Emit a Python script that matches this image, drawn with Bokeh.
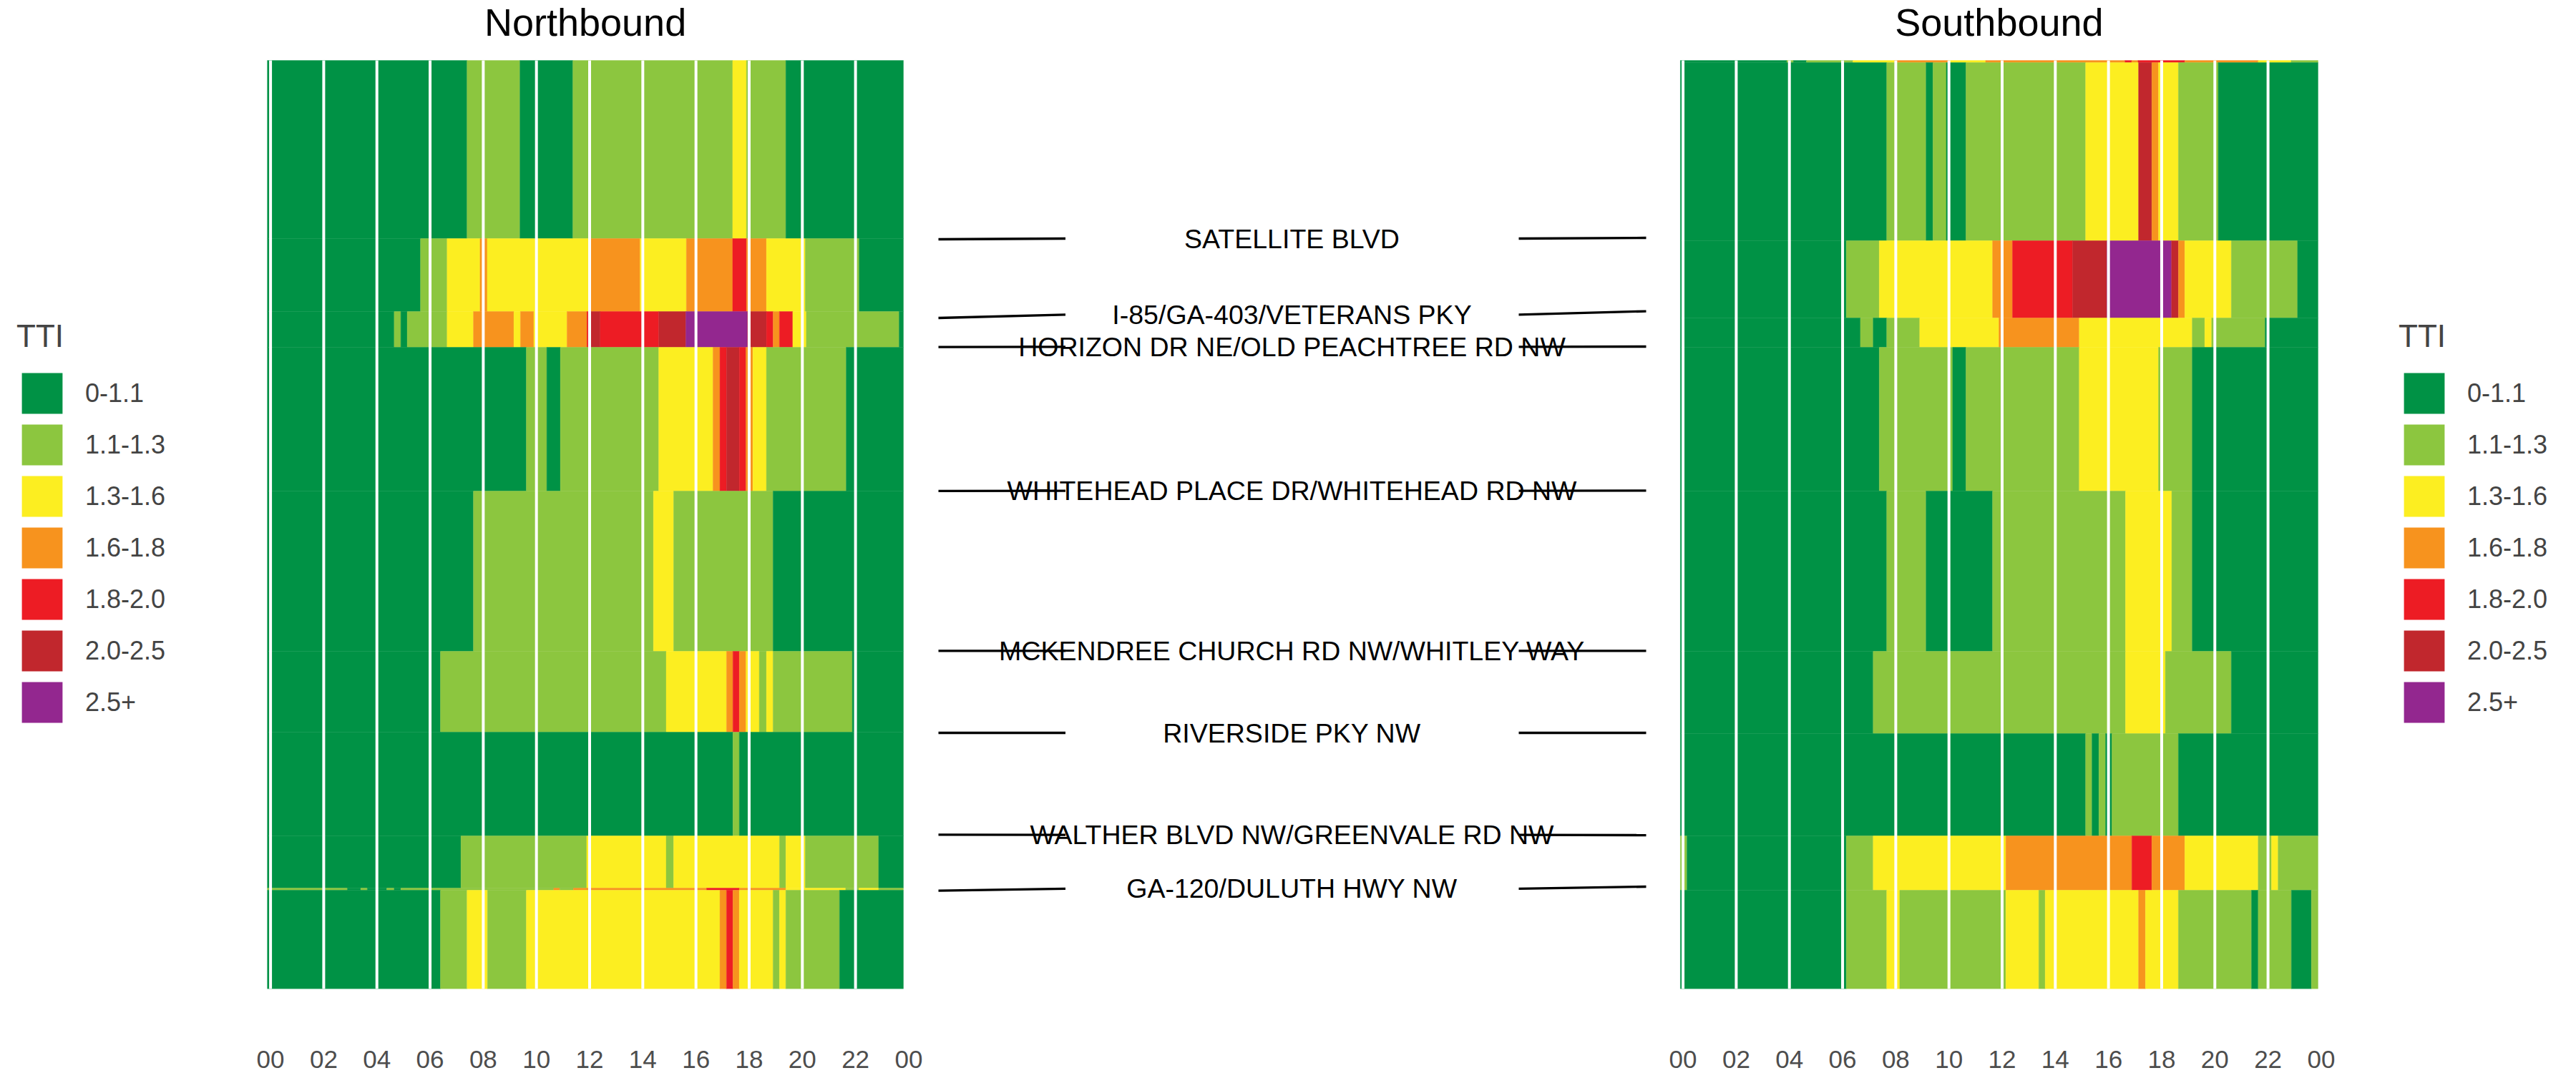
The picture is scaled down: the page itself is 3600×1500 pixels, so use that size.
from bokeh.plotting import figure
from bokeh.models import ColumnDataSource, Range1d, FixedTicker, Legend, LegendItem
from bokeh.layouts import row
from bokeh.embed import file_html
from bokeh.resources import INLINE
from bokeh.core.properties import value

# ---------------- data ----------------
TTI_LABELS = ["0-1.1", "1.1-1.3", "1.3-1.6", "1.6-1.8", "1.8-2.0", "2.0-2.5", "2.5+"]
TTI_COLORS = ["#009245", "#8CC63F", "#FCEE21", "#F7931E", "#ED1C24", "#C1272D", "#93278F"]

HOUR_TICKS = [0, 2, 4, 6, 8, 10, 12, 14, 16, 18, 20, 22, 24]
HOUR_LABELS = ["00", "02", "04", "06", "08", "10", "12", "14", "16", "18", "20", "22", "00"]
HOUR_GRID = [0, 2, 4, 6, 8, 10, 12, 14, 16, 18, 20, 22]

CORRIDOR_LENGTH = 6.49  # miles, top (north end) = 0

# intersections (distance from north end, miles)
CROSS_STREETS = ["SATELLITE BLVD", "I-85/GA-403/VETERANS PKY", "HORIZON DR NE/OLD PEACHTREE RD NW",
                 "WHITEHEAD PLACE DR/WHITEHEAD RD NW", "MCKENDREE CHURCH RD NW/WHITLEY WAY",
                 "RIVERSIDE PKY NW", "WALTHER BLVD NW/GREENVALE RD NW", "GA-120/DULUTH HWY NW"]
CROSS_NB = [1.24, 1.753, 2.0, 3.007, 4.127, 4.7, 5.415, 5.775]
CROSS_SB = [1.25, 1.8, 2.003, 3.009, 4.127, 4.7, 5.412, 5.803]

# Northbound segment edges and runs (start hour, TTI class index)
NB_START, NB_END = -0.12, 23.8
NB_EDGES = [0, 1.245, 1.755, 2.005, 3.01, 4.13, 4.695, 5.42, 5.785, 5.80, 6.49]
NB_R1 = [(-0.12, 0), (7.39, 1), (9.38, 0), (11.37, 1), (17.38, 2), (17.9, 1), (19.38, 0)]
NB_R2 = [(-0.12, 0), (5.64, 1), (6.64, 2), (7.88, 3), (8.15, 2), (12.05, 3), (13.9, 2), (15.64, 3),
         (17.38, 4), (17.9, 3), (18.65, 2), (20.11, 1), (22.14, 0)]
NB_R3 = [(-0.12, 0), (4.65, 1), (4.9, 0), (5.14, 1), (6.64, 2), (7.63, 3), (9.15, 2), (9.4, 3), (9.9, 2),
         (11.15, 3), (11.9, 4), (12.05, 5), (12.4, 4), (14.6, 5), (15.62, 6), (17.94, 5), (18.65, 4),
         (18.9, 3), (19.14, 4), (19.64, 2), (20.15, 1), (23.64, 0)]
NB_R4 = [(-0.12, 0), (9.62, 1), (10.39, 0), (10.9, 1), (14.6, 2), (16.64, 3), (16.9, 4), (17.15, 5),
         (17.63, 4), (17.88, 3), (18.14, 2), (18.65, 1), (21.65, 0)]
NB_R5 = [(-0.12, 0), (7.63, 1), (14.4, 2), (15.16, 1), (18.9, 0)]
NB_R6 = [(-0.12, 0), (6.39, 1), (14.88, 2), (17.15, 3), (17.39, 4), (17.63, 3), (17.88, 2), (18.38, 1),
         (18.65, 2), (18.9, 1), (21.88, 0)]
NB_R7 = [(-0.12, 0), (17.39, 1), (17.63, 0)]
NB_R8 = [(-0.12, 0), (7.16, 1), (11.89, 2), (14.88, 1), (15.16, 2), (19.14, 1), (19.38, 2), (20.11, 1),
         (22.87, 0)]
NB_R9 = [(-0.12, 1), (2.89, 0), (3.39, 1), (3.64, 0), (4.37, 1), (4.65, 0), (4.9, 1), (10.65, 3),
         (10.88, 1), (11.39, 3), (16.4, 4), (17.63, 3), (19.38, 2), (21.63, 1), (22.13, 2), (22.87, 1)]
NB_R10 = [(-0.12, 0), (6.39, 1), (7.39, 2), (8.16, 1), (9.62, 2), (16.9, 3), (17.15, 4), (17.39, 3),
          (17.63, 2), (18.9, 1), (19.14, 2), (19.38, 1), (21.4, 0)]

# Southbound segment edges and runs
SB_START, SB_END = -0.1, 23.88
SB_EDGES = [0, 0.015, 1.26, 1.80, 2.005, 3.01, 4.13, 4.705, 5.42, 5.80, 6.49]
SB_R0 = [(-0.1, 0), (3.9, 1), (4.15, 0), (4.64, 1), (6.39, 2), (7.95, 3), (10.0, 2), (11.38, 3),
         (16.62, 4), (16.87, 3), (17.11, 4), (18.87, 3), (21.63, 2), (22.87, 1)]
SB_R1 = [(-0.1, 0), (7.66, 1), (9.14, 0), (9.4, 1), (9.9, 0), (10.64, 1), (15.14, 2), (17.13, 5),
         (17.63, 3), (17.88, 2), (18.63, 1), (20.13, 0)]
SB_R2 = [(-0.1, 0), (6.14, 1), (7.38, 2), (11.64, 3), (12.39, 4), (14.65, 5), (15.94, 6), (18.37, 5),
         (18.63, 3), (18.87, 2), (20.62, 1), (23.11, 0)]
SB_R3 = [(-0.1, 0), (6.67, 1), (7.15, 0), (7.66, 1), (8.9, 2), (11.88, 3), (14.9, 2), (19.15, 1),
         (19.62, 2), (19.88, 1), (21.89, 0)]
SB_R4 = [(-0.1, 0), (7.38, 1), (10.14, 0), (10.64, 1), (14.9, 2), (17.88, 1), (19.15, 0)]
SB_R5 = [(-0.1, 0), (7.66, 1), (9.14, 0), (11.64, 1), (16.64, 2), (18.38, 1), (19.15, 0)]
SB_R6 = [(-0.1, 0), (7.15, 1), (16.64, 2), (18.14, 1), (20.62, 0)]
SB_R7 = [(-0.1, 0), (15.14, 1), (15.38, 0), (15.64, 1), (15.89, 0), (16.13, 1), (18.63, 0)]
SB_R8 = [(-0.1, 1), (0.15, 0), (6.14, 1), (7.15, 2), (12.14, 3), (16.88, 4), (17.63, 3), (18.87, 2),
         (21.63, 1), (22.13, 2), (22.38, 1)]
SB_R9 = [(-0.1, 0), (6.14, 1), (7.66, 2), (8.15, 1), (12.14, 2), (13.38, 1), (13.62, 2), (17.13, 3),
         (17.39, 2), (18.63, 1), (21.38, 0), (21.63, 1), (22.88, 0), (23.63, 1)]

NB_ROWS = [NB_R1, NB_R2, NB_R3, NB_R4, NB_R5, NB_R6, NB_R7, NB_R8, NB_R9, NB_R10]
SB_ROWS = [SB_R0, SB_R1, SB_R2, SB_R3, SB_R4, SB_R5, SB_R6, SB_R7, SB_R8, SB_R9]

# ---------------- style ----------------
FONT = "Liberation Sans"
H = 1500
TOP, BOTTOM = 84, 118
FRAME_W = 929
PX_PER_MILE = (H - TOP - BOTTOM) / CORRIDOR_LENGTH
Y_TOP = -TOP / PX_PER_MILE          # frame reaches up to the top of the page
TITLE_Y = -54 / PX_PER_MILE         # title baseline above the panel
NAN = float("nan")


def tile_source(edges, rows, t_end):
    d = dict(left=[], right=[], top=[], bottom=[], color=[])
    for i, runs in enumerate(rows):
        for j, (t0, c) in enumerate(runs):
            t1 = runs[j + 1][0] if j + 1 < len(runs) else t_end
            d["left"].append(t0)
            d["right"].append(t1)
            d["top"].append(edges[i])
            d["bottom"].append(edges[i + 1])
            d["color"].append(TTI_COLORS[c])
    return ColumnDataSource(d)


def panel(title, edges, rows, t_start, t_end, bl, br):
    p = figure(width=FRAME_W + bl + br, height=H, x_range=Range1d(-0.5, 24.5),
               y_range=Range1d(CORRIDOR_LENGTH, Y_TOP), toolbar_location=None, output_backend="svg",
               min_border_left=bl, min_border_right=br, min_border_top=0, min_border_bottom=BOTTOM,
               y_axis_location=None, outline_line_color=None, background_fill_color="white")
    p.grid.visible = False
    p.quad(left="left", right="right", top="top", bottom="bottom", source=tile_source(edges, rows, t_end),
           fill_color="color", line_color="color", line_width=0.4)
    gsrc = ColumnDataSource(dict(x=HOUR_GRID, y0=[edges[0]] * len(HOUR_GRID),
                                 y1=[edges[-1]] * len(HOUR_GRID)))
    p.segment(x0="x", y0="y0", x1="x", y1="y1", source=gsrc, line_color="white", line_width=4)
    tsrc = ColumnDataSource(dict(x=[(t_start + t_end) / 2], y=[TITLE_Y], text=[title]))
    p.text(x="x", y="y", text="text", source=tsrc, text_align="center", text_baseline="alphabetic",
           text_font=value(FONT), text_font_size="54px", text_color="black")
    ax = p.xaxis[0]
    ax.ticker = FixedTicker(ticks=HOUR_TICKS)
    ax.major_label_overrides = {t: s for t, s in zip(HOUR_TICKS, HOUR_LABELS)}
    ax.axis_line_color = None
    ax.major_tick_line_color = None
    ax.minor_tick_line_color = None
    ax.major_tick_out = 0
    ax.major_tick_in = 0
    ax.major_label_standoff = 86
    ax.major_label_text_line_height = 0.8
    ax.major_label_text_font_size = "35px"
    ax.major_label_text_font = FONT
    ax.major_label_text_color = "#4D4D4D"
    return p


def legend_fig(width, x_off):
    p = figure(width=width, height=H, x_range=Range1d(0, 1), y_range=Range1d(0, 1),
               toolbar_location=None, output_backend="svg", min_border=0,
               x_axis_location=None, y_axis_location=None, outline_line_color=None)
    p.grid.visible = False
    items = []
    for lab, col in zip(TTI_LABELS, TTI_COLORS):
        r = p.quad(left=[NAN], right=[NAN], top=[NAN], bottom=[NAN], fill_color=col, line_color=None)
        items.append(LegendItem(label=lab, renderers=[r]))
    leg = Legend(items=items, location=(x_off, 365), title="TTI",
                 title_text_font_size="44px", title_text_font=FONT, title_text_font_style="normal",
                 title_standoff=19, label_text_font_size="36px", label_text_font=FONT,
                 label_standoff=25, glyph_width=71, glyph_height=71, spacing=1, padding=0, margin=0,
                 border_line_color=None, background_fill_alpha=0)
    p.add_layout(leg)
    return p


nb = panel("Northbound", NB_EDGES, NB_ROWS, NB_START, NB_END, 20, 12)
sb = panel("Southbound", SB_EDGES, SB_ROWS, SB_START, SB_END, 23, 20)

# middle panel with cross street names
mid = figure(width=1010, height=H, x_range=Range1d(-505, 505), y_range=Range1d(CORRIDOR_LENGTH, Y_TOP),
             toolbar_location=None, output_backend="svg", min_border_left=0, min_border_right=0,
             min_border_top=0, min_border_bottom=BOTTOM, x_axis_location=None, y_axis_location=None,
             outline_line_color=None)
mid.grid.visible = False
y_mid = [(a + b) / 2 for a, b in zip(CROSS_NB, CROSS_SB)]
n = len(CROSS_STREETS)
msrc = ColumnDataSource(dict(name=CROSS_STREETS, y_nb=CROSS_NB, y_sb=CROSS_SB, y_mid=y_mid,
                             xc=[0] * n, xl0=[-494] * n, xl1=[-316.5] * n, xr0=[317] * n, xr1=[495] * n))
mid.segment(x0="xl0", y0="y_sb", x1="xl1", y1="y_mid", source=msrc, line_color="black", line_width=3.3)
mid.segment(x0="xr0", y0="y_mid", x1="xr1", y1="y_nb", source=msrc, line_color="black", line_width=3.3)
mid.text(x="xc", y="y_mid", text="name", source=msrc, text_align="center", text_baseline="middle",
         text_font=value(FONT), text_font_size="37.5px", text_color="black")

leg_l = legend_fig(339, 23)
leg_r = legend_fig(318, 70)

layout = row(leg_l, nb, mid, sb, leg_r, spacing=0)
open("out.html", "w").write(file_html(layout, INLINE))
